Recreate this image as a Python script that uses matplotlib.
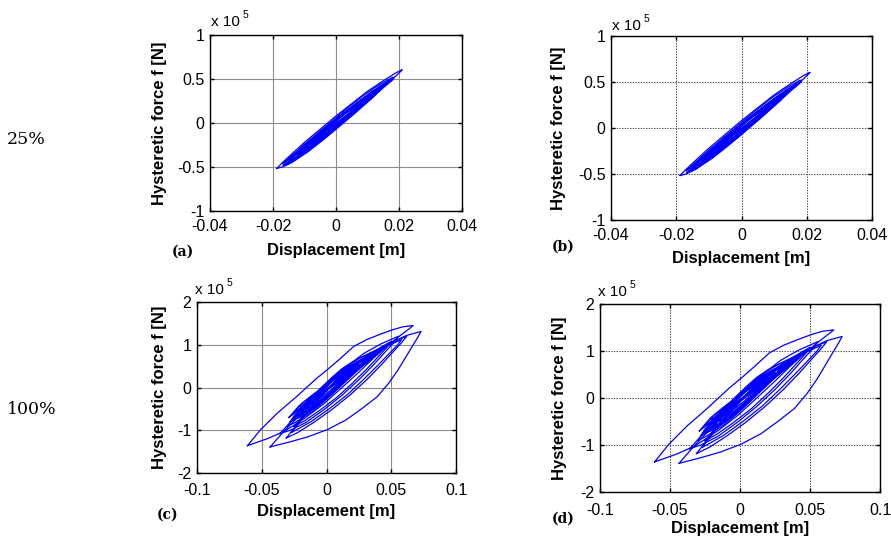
import numpy as np
import matplotlib
matplotlib.use("Agg")
import matplotlib.pyplot as plt

plt.rcParams['font.family'] = ['Liberation Sans', 'DejaVu Sans']

W, H = 891, 545

# hysteresis loops, displacement [m] and force [x 1e5 N]
# each loop: rising branch then falling branch
# 25% excitation level
x25 = [
    [-0.0188, -0.017, -0.014, -0.010, -0.005, 0.0, 0.005, 0.010, 0.015, 0.019, 0.021,
     0.0205, 0.018, 0.014, 0.010, 0.005, 0.0, -0.005, -0.010, -0.014, -0.017, -0.0188],
    [-0.0167, -0.015, -0.011, -0.006, -0.001, 0.004, 0.009, 0.014, 0.0175, 0.0185,
     0.018, 0.015, 0.011, 0.006, 0.001, -0.004, -0.009, -0.013, -0.0155, -0.0167],
    [-0.015, -0.013, -0.009, -0.004, 0.001, 0.006, 0.011, 0.014, 0.016,
     0.015, 0.012, 0.008, 0.003, -0.002, -0.007, -0.011, -0.014, -0.015],
    [-0.013, -0.011, -0.007, -0.002, 0.003, 0.008, 0.012, 0.014,
     0.013, 0.010, 0.005, 0.0, -0.005, -0.009, -0.012, -0.013],
    [-0.012, -0.009, -0.005, 0.0, 0.005, 0.009, 0.012,
     0.011, 0.008, 0.003, -0.002, -0.007, -0.010, -0.012],
    [-0.010, -0.007, -0.003, 0.002, 0.006, 0.009, 0.011,
     0.010, 0.007, 0.003, -0.002, -0.006, -0.009, -0.010],
    [-0.008, -0.005, -0.001, 0.003, 0.007, 0.009,
     0.008, 0.005, 0.001, -0.003, -0.006, -0.008],
    [-0.006, -0.003, 0.0, 0.003, 0.006, 0.007,
     0.006, 0.003, 0.0, -0.003, -0.005, -0.006],
    [-0.016, -0.014, -0.010, -0.005, 0.0, 0.005, 0.010, 0.013,
     0.012, 0.009, 0.004, -0.001, -0.006, -0.011, -0.014, -0.016],
    [-0.012, -0.010, -0.006, -0.001, 0.004, 0.009, 0.014, 0.017,
     0.016, 0.013, 0.009, 0.004, -0.001, -0.006, -0.010, -0.012],
    [-0.014, -0.012, -0.008, -0.003, 0.002, 0.007, 0.012, 0.015,
     0.014, 0.011, 0.007, 0.002, -0.003, -0.008, -0.012, -0.014],
    [-0.011, -0.008, -0.004, 0.001, 0.006, 0.010, 0.013,
     0.012, 0.009, 0.004, -0.001, -0.006, -0.009, -0.011],
    # narrow cycles near the backbone
    [-0.015, -0.010, -0.005, 0.0, 0.005, 0.010, 0.015,
     0.010, 0.005, 0.0, -0.005, -0.010, -0.015],
    [-0.012, -0.008, -0.003, 0.002, 0.007, 0.013,
     0.009, 0.004, -0.001, -0.006, -0.012],
    [-0.009, -0.005, 0.0, 0.005, 0.010,
     0.006, 0.001, -0.004, -0.009],
    [-0.017, -0.012, -0.006, 0.0, 0.006, 0.012, 0.018,
     0.013, 0.007, 0.001, -0.005, -0.011, -0.017],
]
y25 = [
    [-0.516, -0.45, -0.35, -0.22, -0.07, 0.08, 0.22, 0.36, 0.48, 0.57, 0.605,
     0.585, 0.50, 0.38, 0.25, 0.09, -0.07, -0.21, -0.35, -0.45, -0.50, -0.516],
    [-0.48, -0.41, -0.28, -0.12, 0.03, 0.18, 0.32, 0.44, 0.51, 0.52,
     0.49, 0.40, 0.27, 0.11, -0.04, -0.19, -0.33, -0.42, -0.47, -0.48],
    [-0.44, -0.36, -0.23, -0.08, 0.07, 0.21, 0.34, 0.42, 0.45,
     0.41, 0.32, 0.19, 0.04, -0.11, -0.25, -0.36, -0.42, -0.44],
    [-0.40, -0.31, -0.18, -0.03, 0.12, 0.26, 0.36, 0.40,
     0.35, 0.25, 0.10, -0.05, -0.20, -0.31, -0.38, -0.40],
    [-0.34, -0.24, -0.11, 0.04, 0.18, 0.29, 0.37,
     0.31, 0.21, 0.06, -0.09, -0.23, -0.31, -0.34],
    [-0.30, -0.19, -0.06, 0.09, 0.20, 0.27, 0.30,
     0.25, 0.16, 0.04, -0.10, -0.21, -0.28, -0.30],
    [-0.25, -0.14, -0.01, 0.11, 0.21, 0.26,
     0.21, 0.12, 0.0, -0.12, -0.20, -0.25],
    [-0.18, -0.08, 0.02, 0.11, 0.18, 0.20,
     0.15, 0.06, -0.04, -0.12, -0.16, -0.18],
    [-0.47, -0.39, -0.26, -0.11, 0.04, 0.18, 0.31, 0.38,
     0.33, 0.23, 0.08, -0.07, -0.22, -0.35, -0.43, -0.47],
    [-0.36, -0.28, -0.15, 0.0, 0.15, 0.29, 0.41, 0.48,
     0.44, 0.35, 0.22, 0.07, -0.08, -0.22, -0.32, -0.36],
    [-0.42, -0.33, -0.20, -0.05, 0.10, 0.24, 0.36, 0.43,
     0.39, 0.29, 0.16, 0.01, -0.14, -0.28, -0.38, -0.42],
    [-0.32, -0.21, -0.08, 0.07, 0.21, 0.30, 0.35,
     0.30, 0.21, 0.06, -0.09, -0.22, -0.29, -0.32],
    [-0.41, -0.24, -0.10, 0.04, 0.18, 0.32, 0.44,
     0.27, 0.13, -0.01, -0.15, -0.29, -0.41],
    [-0.33, -0.19, -0.05, 0.09, 0.23, 0.38,
     0.24, 0.10, -0.04, -0.18, -0.33],
    [-0.24, -0.11, 0.03, 0.17, 0.30,
     0.165, 0.02, -0.12, -0.24],
    [-0.46, -0.31, -0.14, 0.03, 0.20, 0.36, 0.52,
     0.365, 0.195, 0.025, -0.145, -0.315, -0.46],
]

# 100% excitation level
x100 = [
    [-0.061, -0.051, -0.038, -0.023, -0.0074, 0.0, 0.010, 0.021, 0.031, 0.041, 0.051, 0.059, 0.067,
     0.062, 0.055, 0.046, 0.036, 0.025, 0.012, -0.002, -0.016, -0.026, -0.033, -0.045, -0.061],
    [-0.0435, -0.038, -0.033, -0.025, -0.015, -0.004, 0.008, 0.022, 0.036, 0.050, 0.062, 0.073,
     0.070, 0.066, 0.061, 0.055, 0.048, 0.039, 0.027, 0.015, 0.001, -0.014, -0.028, -0.0435],
    [-0.031, -0.025, -0.017, -0.007, 0.005, 0.018, 0.031, 0.044, 0.054, 0.062,
     0.058, 0.051, 0.042, 0.031, 0.018, 0.004, -0.010, -0.022, -0.031],
    [-0.036, -0.029, -0.020, -0.009, 0.003, 0.016, 0.029, 0.042, 0.0556,
     0.052, 0.045, 0.036, 0.025, 0.012, -0.002, -0.016, -0.028, -0.036],
    [-0.025, -0.018, -0.009, 0.002, 0.014, 0.027, 0.039, 0.050,
     0.047, 0.040, 0.031, 0.020, 0.008, -0.005, -0.017, -0.025],
    [-0.027, -0.020, -0.011, 0.0, 0.012, 0.025, 0.038, 0.049, 0.058,
     0.055, 0.048, 0.039, 0.028, 0.016, 0.002, -0.012, -0.022, -0.027],
    [-0.028, -0.025, -0.020, -0.012, -0.004, 0.004, 0.012, 0.020, 0.028, 0.036, 0.042,
     0.040, 0.035, 0.028, 0.020, 0.012, 0.004, -0.004, -0.012, -0.020, -0.025, -0.028],
    [-0.024, -0.021, -0.015, -0.008, 0.0, 0.008, 0.016, 0.024, 0.032, 0.038,
     0.036, 0.030, 0.022, 0.014, 0.006, -0.002, -0.010, -0.017, -0.022, -0.024],
    [-0.023, -0.019, -0.012, -0.004, 0.004, 0.012, 0.020, 0.028, 0.035,
     0.032, 0.026, 0.018, 0.010, 0.002, -0.006, -0.014, -0.020, -0.023],
    [-0.020, -0.017, -0.011, -0.004, 0.003, 0.010, 0.017, 0.024, 0.030,
     0.028, 0.022, 0.015, 0.008, 0.001, -0.006, -0.013, -0.018, -0.020],
    [-0.016, -0.012, -0.006, 0.001, 0.008, 0.015, 0.021, 0.027,
     0.024, 0.018, 0.011, 0.004, -0.003, -0.009, -0.014, -0.016],
    [-0.013, -0.009, -0.003, 0.004, 0.010, 0.016, 0.022,
     0.019, 0.013, 0.007, 0.0, -0.006, -0.011, -0.013],
    [-0.010, -0.006, 0.0, 0.006, 0.012, 0.018,
     0.015, 0.009, 0.003, -0.003, -0.008, -0.010],
    [-0.026, -0.023, -0.017, -0.009, -0.001, 0.007, 0.015, 0.023, 0.031, 0.040,
     0.037, 0.031, 0.023, 0.015, 0.007, -0.001, -0.009, -0.016, -0.022, -0.026],
    [-0.030, -0.027, -0.021, -0.013, -0.005, 0.003, 0.011, 0.019, 0.027, 0.035, 0.045,
     0.042, 0.036, 0.029, 0.021, 0.013, 0.005, -0.003, -0.011, -0.019, -0.025, -0.030],
    [-0.018, -0.014, -0.008, -0.001, 0.006, 0.013, 0.020, 0.027, 0.033,
     0.030, 0.024, 0.017, 0.010, 0.003, -0.004, -0.011, -0.016, -0.018],
    [-0.022, -0.018, -0.012, -0.005, 0.003, 0.011, 0.019, 0.027, 0.036,
     0.033, 0.027, 0.020, 0.012, 0.004, -0.004, -0.012, -0.018, -0.022],
    # narrow cycles near the backbone
    [-0.025, -0.018, -0.010, 0.0, 0.010, 0.020, 0.030, 0.038,
     0.031, 0.021, 0.011, 0.001, -0.009, -0.018, -0.025],
    [-0.020, -0.013, -0.005, 0.005, 0.015, 0.025, 0.032,
     0.026, 0.016, 0.006, -0.004, -0.013, -0.020],
    [-0.015, -0.008, 0.0, 0.010, 0.018, 0.025,
     0.019, 0.010, 0.0, -0.008, -0.015],
    [-0.029, -0.021, -0.011, -0.001, 0.009, 0.019, 0.029, 0.037, 0.043,
     0.036, 0.026, 0.016, 0.006, -0.004, -0.014, -0.022, -0.029],
    [-0.010, -0.004, 0.004, 0.012, 0.020,
     0.014, 0.006, -0.002, -0.010],
]
y100 = [
    [-1.36, -0.99, -0.60, -0.21, 0.22, 0.40, 0.66, 0.96, 1.12, 1.24, 1.35, 1.42, 1.45,
     1.33, 1.17, 0.95, 0.68, 0.36, 0.0, -0.38, -0.70, -0.90, -1.03, -1.19, -1.36],
    [-1.39, -1.20, -1.03, -0.78, -0.48, -0.15, 0.18, 0.52, 0.82, 1.05, 1.22, 1.31,
     1.15, 0.95, 0.70, 0.40, 0.10, -0.22, -0.50, -0.76, -0.98, -1.15, -1.27, -1.39],
    [-1.18, -0.95, -0.65, -0.30, 0.07, 0.42, 0.72, 0.95, 1.10, 1.20,
     1.05, 0.82, 0.52, 0.18, -0.18, -0.52, -0.82, -1.05, -1.18],
    [-1.08, -0.85, -0.55, -0.20, 0.15, 0.50, 0.80, 1.02, 1.20,
     1.05, 0.82, 0.52, 0.18, -0.18, -0.52, -0.82, -1.00, -1.08],
    [-0.91, -0.65, -0.33, 0.0, 0.35, 0.66, 0.89, 1.08,
     0.95, 0.72, 0.43, 0.10, -0.23, -0.53, -0.78, -0.91],
    [-1.05, -0.78, -0.45, -0.08, 0.28, 0.60, 0.85, 1.00, 1.12,
     1.00, 0.78, 0.50, 0.17, -0.17, -0.50, -0.80, -0.97, -1.05],
    [-0.80, -0.66, -0.49, -0.25, 0.0, 0.23, 0.44, 0.60, 0.72, 0.81, 0.85,
     0.79, 0.68, 0.51, 0.31, 0.09, -0.14, -0.35, -0.54, -0.68, -0.76, -0.80],
    [-0.70, -0.58, -0.40, -0.18, 0.06, 0.28, 0.46, 0.60, 0.71, 0.78,
     0.71, 0.58, 0.39, 0.17, -0.06, -0.28, -0.47, -0.60, -0.68, -0.70],
    [-0.56, -0.45, -0.25, -0.02, 0.20, 0.39, 0.53, 0.64, 0.72,
     0.63, 0.49, 0.29, 0.07, -0.15, -0.34, -0.48, -0.55, -0.56],
    [-0.62, -0.50, -0.30, -0.07, 0.15, 0.33, 0.47, 0.57, 0.62,
     0.55, 0.41, 0.22, 0.01, -0.20, -0.38, -0.52, -0.60, -0.62],
    [-0.50, -0.36, -0.16, 0.06, 0.25, 0.39, 0.49, 0.55,
     0.46, 0.32, 0.12, -0.09, -0.27, -0.40, -0.48, -0.50],
    [-0.40, -0.26, -0.06, 0.14, 0.29, 0.39, 0.45,
     0.36, 0.20, 0.01, -0.18, -0.31, -0.38, -0.40],
    [-0.30, -0.16, 0.03, 0.18, 0.29, 0.36,
     0.27, 0.11, -0.07, -0.21, -0.28, -0.30],
    [-0.74, -0.62, -0.43, -0.19, 0.05, 0.27, 0.46, 0.60, 0.71, 0.80,
     0.72, 0.58, 0.38, 0.16, -0.07, -0.29, -0.48, -0.62, -0.71, -0.74],
    [-0.90, -0.77, -0.57, -0.31, -0.06, 0.18, 0.39, 0.57, 0.71, 0.83, 0.95,
     0.86, 0.72, 0.54, 0.32, 0.09, -0.14, -0.36, -0.56, -0.72, -0.83, -0.90],
    [-0.58, -0.44, -0.24, -0.01, 0.21, 0.38, 0.51, 0.61, 0.68,
     0.59, 0.45, 0.26, 0.05, -0.16, -0.35, -0.49, -0.56, -0.58],
    [-0.66, -0.53, -0.34, -0.11, 0.13, 0.34, 0.50, 0.62, 0.74,
     0.65, 0.51, 0.33, 0.10, -0.13, -0.33, -0.50, -0.61, -0.66],
    [-0.58, -0.35, -0.16, 0.07, 0.29, 0.50, 0.69, 0.82,
     0.62, 0.40, 0.17, -0.05, -0.26, -0.45, -0.58],
    [-0.46, -0.25, -0.06, 0.16, 0.38, 0.58, 0.70,
     0.53, 0.31, 0.09, -0.13, -0.33, -0.46],
    [-0.36, -0.14, 0.05, 0.27, 0.43, 0.56,
     0.38, 0.18, -0.05, -0.22, -0.36],
    [-0.70, -0.42, -0.18, 0.04, 0.26, 0.48, 0.69, 0.83, 0.92,
     0.74, 0.53, 0.31, 0.09, -0.14, -0.36, -0.54, -0.70],
    [-0.25, -0.04, 0.14, 0.31, 0.45,
     0.28, 0.10, -0.08, -0.25],
]

xt25 = [-0.04, -0.02, 0, 0.02, 0.04]
xtl25 = ['-0.04', '-0.02', '0', '0.02', '0.04']
yt25 = [-1, -0.5, 0, 0.5, 1]
ytl25 = ['-1', '-0.5', '0', '0.5', '1']
xt100 = [-0.1, -0.05, 0, 0.05, 0.1]
xtl100 = ['-0.1', '-0.05', '0', '0.05', '0.1']
yt100 = [-2, -1, 0, 1, 2]
ytl100 = ['-2', '-1', '0', '1', '2']

fig = plt.figure(figsize=(W / 100, H / 100), dpi=100)


def px_axes(left, top, right, bottom):
    return fig.add_axes([left / W, 1 - bottom / H, (right - left) / W, (bottom - top) / H])


def px_text(x, y, s, **kw):
    fig.text(x / W, 1 - y / H, s, **kw)


panels = [
    dict(box=(210, 35, 462, 211), xs=x25, ys=y25, xt=xt25, xtl=xtl25, yt=yt25, ytl=ytl25,
         grid=dict(linestyle='-', color='0.55'), ylx=-0.171, xly=-0.182, xpad=5.5,
         tag='(a)', tagpos=(172, 252), exp=(211, 22)),
    dict(box=(611, 36, 872, 220), xs=x25, ys=y25, xt=xt25, xtl=xtl25, yt=yt25, ytl=ytl25,
         grid=dict(linestyle=(0, (1.2, 1.2)), color='0.3'), ylx=-0.172, xly=-0.168, xpad=5.5,
         tag='(b)', tagpos=(552, 247), exp=(612, 26)),
    dict(box=(197, 302, 456, 473), xs=x100, ys=y100, xt=xt100, xtl=xtl100, yt=yt100, ytl=ytl100,
         grid=dict(linestyle='-', color='0.55'), ylx=-0.116, xly=-0.181, xpad=7,
         tag='(c)', tagpos=(157, 515), exp=(195, 290)),
    dict(box=(600, 304, 880, 492), xs=x100, ys=y100, xt=xt100, xtl=xtl100, yt=yt100, ytl=ytl100,
         grid=dict(linestyle=(0, (1.2, 1.2)), color='0.3'), ylx=-0.118, xly=-0.152, xpad=8,
         tag='(d)', tagpos=(552, 519), exp=(598, 292)),
]

for p in panels:
    ax = px_axes(*p['box'])
    for lx, ly in zip(p['xs'], p['ys']):
        ax.plot(lx, ly, color='#0000ff', lw=0.9)
    ax.set_xlim(p['xt'][0], p['xt'][-1])
    ax.set_ylim(p['yt'][0], p['yt'][-1])
    ax.set_xticks(p['xt'])
    ax.set_xticklabels(p['xtl'])
    ax.set_yticks(p['yt'])
    ax.set_yticklabels(p['ytl'])
    ax.tick_params(direction='in', top=True, right=True, length=3, width=1.0,
                   labelsize=11.5, pad=4)
    ax.tick_params(axis='x', pad=p['xpad'])
    ax.grid(True, lw=0.8, **p['grid'])
    ax.set_axisbelow(True)
    for s in ax.spines.values():
        s.set_linewidth(1.0)
    ax.set_xlabel('Displacement [m]', fontsize=12, fontweight='bold')
    ax.set_ylabel('Hysteretic force f [N]', fontsize=12, fontweight='bold')
    ax.yaxis.set_label_coords(p['ylx'], 0.5)
    ax.xaxis.set_label_coords(0.5, p['xly'])

    # MATLAB style exponent above the y axis
    ex, ey = p['exp']
    px_text(ex, ey, 'x 10', fontsize=11, va='center', ha='left')
    px_text(ex + 32, ey - 7, '5', fontsize=7.5, va='center', ha='left')

    tx, ty = p['tagpos']
    px_text(tx, ty, p['tag'], fontsize=10, fontweight='bold',
            family='DejaVu Serif', va='center', ha='left')

px_text(7, 140, '25%', fontsize=12.5, family='DejaVu Serif', va='center', ha='left')
px_text(7, 410, '100%', fontsize=12.5, family='DejaVu Serif', va='center', ha='left')

fig.savefig('out.png', dpi=100)
